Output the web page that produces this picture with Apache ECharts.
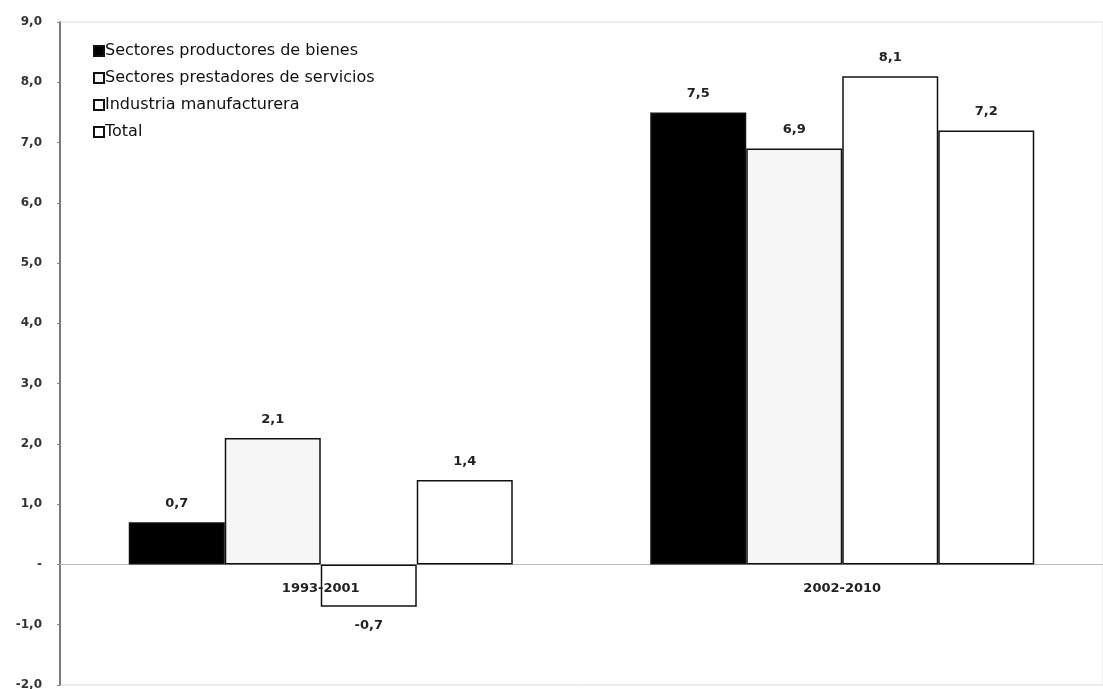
<!DOCTYPE html>
<html>
<head>
<meta charset="utf-8">
<script src="https://cdn.jsdelivr.net/npm/echarts@6/dist/echarts.min.js"></script>
<style>
  html, body { margin: 0; padding: 0; background: #fff; }
  #chart { width: 1103px; height: 689px; }
</style>
</head>
<body>
<div id="chart"></div>
<script>
// Periods on the category axis
const periods = ['1993-2001', '2002-2010'];

// Average annual growth (%) by sector and period
const bienes = [0.7, 7.5];
const servicios = [2.1, 6.9];
const manufactura = [-0.7, 8.1];
const total = [1.4, 7.2];

const seriesNames = [
  'Sectores productores de bienes',
  'Sectores prestadores de servicios',
  'Industria manufacturera',
  'Total'
];

const Y_MIN = -2, Y_MAX = 9;
const GRID_TOP = 22, GRID_BOTTOM = 4, CHART_H = 689;

const fmt = v => v.toFixed(1).replace('.', ',');
const FONT = 'DejaVu Sans, Verdana, sans-serif';

// pixel distance from the grid bottom edge up to the zero line
const plotH = CHART_H - GRID_TOP - GRID_BOTTOM;
const zeroLift = plotH * (0 - Y_MIN) / (Y_MAX - Y_MIN);

function barSeries(name, data, fill) {
  return {
    name: name,
    type: 'bar',
    xAxisIndex: 0,
    data: data,
    barWidth: 96,
    barGap: '0%',
    itemStyle: { color: fill, borderColor: '#111', borderWidth: 1.5 },
    label: {
      show: true,
      position: 'outside',
      distance: 12,
      formatter: p => fmt(p.value),
      fontFamily: FONT,
      fontSize: 13,
      fontWeight: 'bold',
      color: '#222'
    },
    emphasis: { disabled: true }
  };
}

const chart = echarts.init(document.getElementById('chart'), null, { renderer: 'canvas' });
chart.setOption({
  animation: false,
  backgroundColor: '#fff',
  grid: {
    left: 60, right: 0, top: GRID_TOP, bottom: GRID_BOTTOM,
    outerBoundsMode: 'none', containLabel: false,
    show: true, borderColor: '#dcdcdc', borderWidth: 1, backgroundColor: 'transparent'
  },
  legend: {
    orient: 'vertical',
    left: 88, top: 38,
    itemWidth: 10, itemHeight: 10, itemGap: 11,
    icon: 'rect',
    textStyle: { fontFamily: FONT, fontSize: 16, color: '#111', padding: [0, 0, 0, -4] },
    data: seriesNames
  },
  xAxis: [
    {
      // period labels, drawn above the bars
      type: 'category',
      data: periods,
      position: 'bottom',
      offset: -zeroLift,
      axisLine: { show: false, onZero: false },
      axisTick: { show: false },
      axisLabel: {
        margin: 18,
        fontFamily: FONT,
        fontSize: 13, fontWeight: 'bold', color: '#222'
      },
      z: 5
    },
    {
      // faint zero line, drawn beneath the bars
      type: 'category',
      data: periods,
      position: 'bottom',
      offset: -zeroLift,
      axisLine: { show: true, onZero: false, lineStyle: { color: '#bbb', width: 1 } },
      axisTick: { show: false },
      axisLabel: { show: false },
      z: 0
    }
  ],
  yAxis: {
    type: 'value',
    min: Y_MIN, max: Y_MAX, interval: 1,
    axisLine: { show: true, lineStyle: { color: '#555', width: 1.5 } },
    axisTick: { show: true, length: 3, lineStyle: { color: '#888' } },
    splitLine: { show: false },
    axisLabel: {
      margin: 18,
      formatter: v => (v === 0 ? '-' : fmt(v)),
      fontFamily: FONT,
      fontSize: 12, fontWeight: 'bold', color: '#333'
    }
  },
  series: [
    barSeries(seriesNames[0], bienes, '#000'),
    barSeries(seriesNames[1], servicios, '#f6f6f6'),
    barSeries(seriesNames[2], manufactura, '#fff'),
    barSeries(seriesNames[3], total, '#fff')
  ]
});
</script>
</body>
</html>
